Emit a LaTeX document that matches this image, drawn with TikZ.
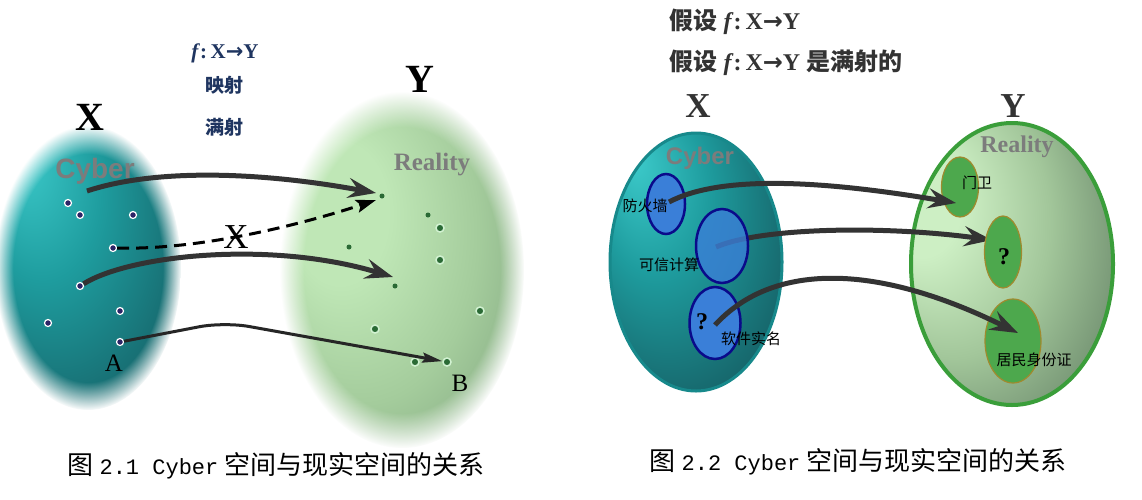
\documentclass[tikz,border=0pt]{standalone}
\usepackage{fontspec}
\setmainfont{Liberation Serif}
\setsansfont{Liberation Sans}
\setmonofont{Liberation Mono}
\newfontfamily\cjk{Noto Sans CJK SC}
\newfontfamily\sym{DejaVu Sans}
\usetikzlibrary{arrows.meta,fadings,shapes.geometric}

\definecolor{cyberhi}{HTML}{3CCACA}
\definecolor{cybermid}{HTML}{1E9C9E}
\definecolor{cyberlo}{HTML}{14545A}
\definecolor{cyberedge}{HTML}{17898B}
\definecolor{realhi}{HTML}{CDEFC4}
\definecolor{realmid}{HTML}{A2C69A}
\definecolor{reallo}{HTML}{6C8A6C}
\definecolor{blurhi}{HTML}{BFE7B6}
\definecolor{blurmid}{HTML}{A4CC9C}
\definecolor{blurlo}{HTML}{7A9E7A}
\definecolor{realedge}{HTML}{3A9E3A}
\definecolor{arrowgray}{HTML}{333333}
\definecolor{navy}{HTML}{1F3560}
\definecolor{labelgray}{HTML}{7C7C7C}
\definecolor{titlegray}{HTML}{333333}
\definecolor{xdotfill}{HTML}{2C2466}
\definecolor{ydotfill}{HTML}{2A6A35}
\definecolor{ydotring}{HTML}{D2F2D2}
\definecolor{bluefill}{HTML}{3A7FD8}
\definecolor{blueedge}{HTML}{0A0A8A}
\definecolor{greenfill}{HTML}{4DA84D}
\definecolor{greenedge}{HTML}{A08A2E}

\pgfdeclareradialshading{cybershade}{\pgfpoint{-18bp}{20bp}}{color(0bp)=(cyberhi); color(16bp)=(cybermid); color(40bp)=(cyberlo); color(50bp)=(cyberlo)}
\pgfdeclareradialshading{realshade}{\pgfpoint{-28bp}{14bp}}{color(0bp)=(realhi); color(10bp)=(realhi); color(24bp)=(realmid); color(38bp)=(reallo); color(50bp)=(reallo)}
\pgfdeclareradialshading{blurshade}{\pgfpoint{-16bp}{10bp}}{color(0bp)=(blurhi); color(10bp)=(blurhi); color(24bp)=(blurmid); color(40bp)=(blurlo); color(50bp)=(blurlo)}

\newcommand{\fmap}{{\bfseries\itshape f}\textbf{:\,X}{\sym\bfseries →}\textbf{Y}}
\newcommand{\fsz}[1]{\fontsize{#1}{#1}\selectfont}

\begin{document}
\begin{tikzpicture}[x=1pt,y=-1pt]
		\tikzstyle{xdot}=[circle,inner sep=0pt,minimum size=7pt,
			fill=xdotfill,draw=white,line width=1.2pt];
		\tikzstyle{ydot}=[circle,inner sep=0pt,minimum size=5pt,fill=ydotfill];
		\tikzstyle{ydotr}=[circle,inner sep=0pt,minimum size=8pt,
			fill=ydotfill,draw=ydotring,line width=1.5pt];
		\tikzstyle{bigarrow}=[draw=arrowgray,line width=5pt,
			-{Stealth[length=28pt,width=20pt,inset=10pt]}];
		\tikzstyle{dasharrow}=[draw=black,line width=3pt,dash pattern=on 12pt off 7pt,
			-{Stealth[length=20pt,width=13pt,inset=4pt]}];
		\tikzstyle{thinarrow}=[draw=black!85,line width=3pt,rounded corners=25pt,
			-{Stealth[length=20pt,width=10pt,inset=3pt]}];
		\tikzstyle{setname}=[font=\fsz{40}\bfseries];
		\tikzstyle{spacename}=[text=labelgray];
		\tikzstyle{blueell}=[ellipse,draw=blueedge,line width=2.5pt,fill=bluefill];
		\tikzstyle{greenell}=[ellipse,draw=greenedge,line width=1.2pt,fill=greenfill];
		\tikzstyle{small}=[font=\cjk\fsz{15}];
		\tikzstyle{caption}=[font=\cjk\fsz{26}];

		\useasboundingbox[fill=white] (0,0) rectangle (1142,499);

		\shade[shading=cybershade,path fading=circle with fuzzy edge 20 percent]
			(88,268) ellipse [x radius=93,y radius=142];
		\shade[shading=blurshade,path fading=circle with fuzzy edge 20 percent]
			(402,270) ellipse [x radius=122,y radius=178];

		\node [setname] (lx) at (90,117) {X};
		\node [setname] (ly) at (420,79) {Y};
		\node [font=\fsz{21},text=navy] (lmap) at (225,53) {\fmap};
		\node [font=\cjk\bfseries\fsz{19},text=navy] (lys) at (224,85) {映射};
		\node [font=\cjk\bfseries\fsz{19},text=navy] (lms) at (224,127) {满射};
		\node [spacename,font=\sffamily\bfseries\fsz{28}] (lcy) at (95,171) {Cyber};
		\node [spacename,font=\bfseries\fsz{25}] (lre) at (432,165) {Reality};

		\node [xdot] (x1) at (68,203) {};
		\node [xdot] (x2) at (80,215) {};
		\node [xdot] (x3) at (133,215) {};
		\node [xdot] (x4) at (113,248) {};
		\node [xdot] (x5) at (80,286) {};
		\node [xdot] (x6) at (120,311) {};
		\node [xdot] (x7) at (48,323) {};
		\node [xdot] (x8) at (120,342) {};

		\node [ydot] (y1) at (382,196) {};
		\node [ydot] (y2) at (428,215) {};
		\node [ydotr] (y3) at (440,228) {};
		\node [ydot] (y4) at (349,247) {};
		\node [ydotr] (y5) at (440,260) {};
		\node [ydot] (y6) at (395,286) {};
		\node [ydotr] (y7) at (480,311) {};
		\node [ydotr] (y8) at (375,329) {};
		\node [ydotr] (y9) at (415,362) {};
		\node [ydotr] (y10) at (447,362) {};

		\coordinate (s1) at (87,191);
		\coordinate (t1) at (376,193);
		\coordinate (t2) at (376,200);
		\coordinate (t3) at (393,277);
		\draw [bigarrow] (s1) .. controls (150,170) and (250,170) .. (t1);
		\draw [dasharrow] (x4) .. controls (200,250) and (300,225) .. (t2);
		\draw [bigarrow] (x5) .. controls (130,255) and (270,240) .. (t3);
		\draw [thinarrow] (x8) -- (224,322) -- (y10);
		\node [font=\fsz{35}] (cross) at (236,237) {X};
		\node [font=\fsz{25}] (la) at (114,363) {A};
		\node [font=\fsz{25}] (lb) at (460,383) {B};

		\node [caption] (cap1) at (276,466) {图 {\ttfamily\fsz{22}2.1 Cyber} 空间与现实空间的关系};

		\node [anchor=west,font=\fsz{24},text=titlegray] (h1) at (666,22)
			{{\cjk\bfseries 假设} \fmap};
		\node [anchor=west,font=\fsz{24},text=titlegray] (h2) at (666,63)
			{{\cjk\bfseries 假设} \fmap{} {\cjk\bfseries 是满射的}};
		\node [font=\fsz{35}\bfseries,text=titlegray] (rx) at (698,106) {X};
		\node [font=\fsz{35}\bfseries,text=titlegray] (ry) at (1013,106) {Y};

		\shadedraw [shading=cybershade,draw=cyberedge,line width=3pt]
			(696,262) ellipse [x radius=86,y radius=129];
		\shadedraw [shading=realshade,draw=realedge,line width=4pt]
			(1012,264) ellipse [x radius=101,y radius=141];
		\node [spacename,font=\sffamily\bfseries\fsz{24}] (rcy) at (700,158) {Cyber};
		\node [spacename,font=\bfseries\fsz{24}] (rre) at (1017,147) {Reality};

		\coordinate (s5) at (716,247);
		\coordinate (t5) at (992,240);
		\draw [bigarrow] (s5) .. controls (760,228) and (880,225) .. (t5);

		\node [blueell,minimum width=38pt,minimum height=60pt] (fw) at (666,204) {};
		\node [blueell,minimum width=52pt,minimum height=74pt,fill opacity=.8] (tc) at (722,246) {};
		\node [blueell,minimum width=51pt,minimum height=72pt] (rn) at (715,323) {};
		\node [greenell,minimum width=37pt,minimum height=60pt] (gd) at (960,187) {};
		\node [greenell,minimum width=37pt,minimum height=72pt] (qu) at (1003,252) {};
		\node [greenell,minimum width=56pt,minimum height=84pt] (id) at (1013,341) {};

		\node [small] (lfw) at (645,206) {防火墙};
		\node [small] (ltc) at (669,265) {可信计算};
		\node [font=\fsz{24}\bfseries] (lq1) at (702,322) {?};
		\node [small] (lrn) at (751,339) {软件实名};
		\node [small] (lgd) at (977,183) {门卫};
		\node [font=\fsz{24}\bfseries] (lq2) at (1004,257) {?};
		\node [small] (lid) at (1034,360) {居民身份证};

		\coordinate (s4) at (669,202);
		\coordinate (t4) at (956,203);
		\coordinate (s6) at (715,325);
		\coordinate (t6) at (1018,333);
		\draw [bigarrow] (s4) .. controls (720,175) and (820,180) .. (t4);
		\draw [bigarrow] (s6) .. controls (770,265) and (870,260) .. (t6);

		\node [caption] (cap2) at (858,462) {图 {\ttfamily\fsz{22}2.2 Cyber} 空间与现实空间的关系};
	\end{tikzpicture}
\end{document}
